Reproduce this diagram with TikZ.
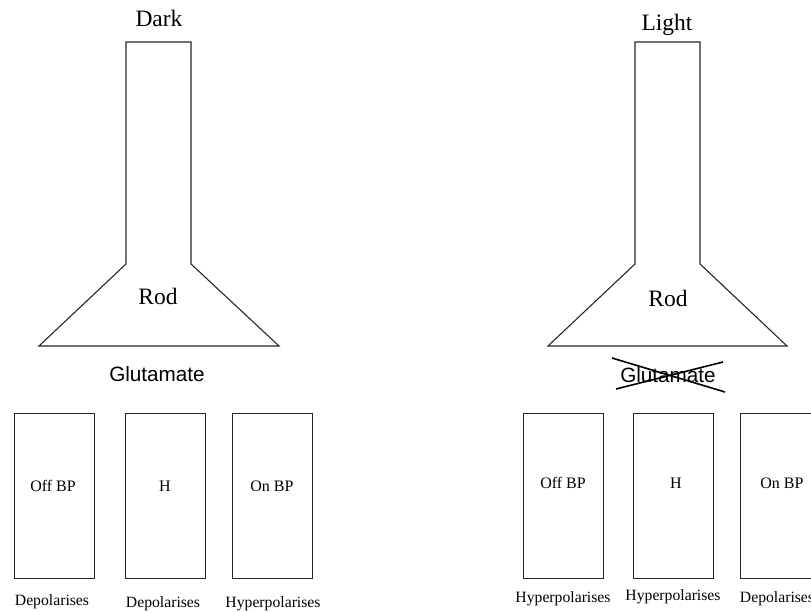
\documentclass[tikz,border=0pt]{standalone}
\usepackage{fontspec}
\setmainfont{Liberation Serif}
\newfontfamily\arialish{Liberation Sans}
\begin{document}
\begin{tikzpicture}[x=1pt,y=-1pt,
  outline/.style={draw=black!85,line width=1.1pt,line join=miter},
  cell/.style={outline,minimum width=80pt,minimum height=165pt,inner sep=0pt,
    anchor=north west,font=\fontsize{16}{16}\selectfont},
  title/.style={anchor=base,font=\fontsize{23.5}{24}\selectfont,inner sep=0pt},
  effect/.style={anchor=base,font=\fontsize{15.7}{16}\selectfont,inner sep=0pt},
  transmitter/.style={anchor=base,font=\arialish\fontsize{20.7}{21}\selectfont,inner sep=0pt},
  cross/.style={draw=black,line width=1.6pt}]
\useasboundingbox (0,0) rectangle (811,612);
\clip (0,0) rectangle (811,612);

% ---- dark-adapted rod ----
\draw[outline] (39,346) -- (126,264) -- (126,42) -- (191,42) -- (191,264) -- (279,346) -- cycle;
\node[title] (darkT) at (159,27) {Dark};
\node[title] (rodL) at (158,305) {Rod};
\node[transmitter] (gluL) at (157,381) {Glutamate};

\node[cell] (offL) at (14,413) {};
\node[cell] (hL)   at (125,413) {};
\node[cell] (onL)  at (232,413) {};
\node[effect,font=\fontsize{16}{16}\selectfont] (offLt) at (53,491) {Off BP};
\node[effect,font=\fontsize{16}{16}\selectfont] (hLt)   at (165,491) {H};
\node[effect,font=\fontsize{16}{16}\selectfont] (onLt)  at (272,491) {On BP};
\node[effect] (offLe) at (52,605) {Depolarises};
\node[effect] (hLe)   at (163,607) {Depolarises};
\node[effect] (onLe)  at (273,607) {Hyperpolarises};

% ---- light-exposed rod ----
\draw[outline] (548,346) -- (635,264) -- (635,42) -- (700,42) -- (700,264) -- (787,346) -- cycle;
\node[title] (lightT) at (667,31) {Light};
\node[title] (rodR) at (668,307) {Rod};
\node[transmitter] (gluR) at (668,382) {Glutamate};
\coordinate (xa) at (612,358);
\coordinate (xb) at (725,392);
\coordinate (xc) at (616,389);
\coordinate (xd) at (723,362);
\draw[cross] (xa) -- (xb);
\draw[cross] (xc) -- (xd);

\node[cell] (offR) at (523,413) {};
\node[cell] (hR)   at (633,413) {};
\node[cell] (onR)  at (740,413) {};
\node[effect,font=\fontsize{16}{16}\selectfont] (offRt) at (563,488) {Off BP};
\node[effect,font=\fontsize{16}{16}\selectfont] (hRt)   at (676,488) {H};
\node[effect,font=\fontsize{16}{16}\selectfont] (onRt)  at (782,488) {On BP};
\node[effect] (offRe) at (563,602) {Hyperpolarises};
\node[effect] (hRe)   at (673,600) {Hyperpolarises};
\node[effect] (onRe)  at (777,602) {Depolarises};
\end{tikzpicture}
\end{document}
